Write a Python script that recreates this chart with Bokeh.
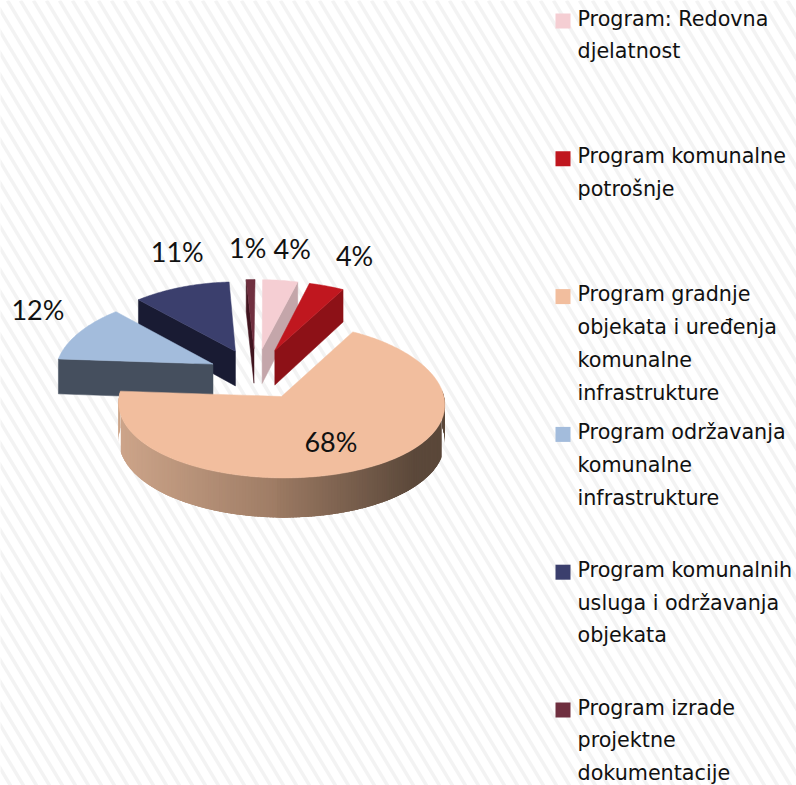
import numpy as np
from bokeh.plotting import figure
from bokeh.models import Range1d
from bokeh.core.properties import value
from bokeh.embed import file_html
from bokeh.resources import INLINE

# ---- data ----
categories = [
    "Program: Redovna djelatnost",
    "Program komunalne potrošnje",
    "Program gradnje objekata i uređenja komunalne infrastrukture",
    "Program održavanja komunalne infrastrukture",
    "Program komunalnih usluga i održavanja objekata",
    "Program izrade projektne dokumentacije",
]
legend_lines = [
    ["Program: Redovna", "djelatnost"],
    ["Program komunalne", "potrošnje"],
    ["Program gradnje", "objekata i uređenja", "komunalne", "infrastrukture"],
    ["Program održavanja", "komunalne", "infrastrukture"],
    ["Program komunalnih", "usluga i održavanja", "objekata"],
    ["Program izrade", "projektne", "dokumentacije"],
]
shares = [4, 4, 68, 12, 11, 1]
labels = ["4%", "4%", "68%", "12%", "11%", "1%"]

top_colors = ["#f5ced3", "#c0171f", "#f2be9e", "#a3bcdc", "#3b3f6d", "#6f2f3f"]
wall_colors = ["#c4a6aa", "#8d1117", None, "#454f5e", "#191b33", "#40141f"]
wall_edge = ["end", "end", None, "start", "start", "start"]
grad_left, grad_mid, grad_right = "#cda58a", "#9c7a63", "#5b483a"

# ---- layout / projection ----
W, H = 796, 785
EXPLODE = np.array([0.34, 0.34, 0.34, 0.30, 0.33, 0.34])
RX, RY = 158.0, 75.0
KX, KY, KD = 0.09, 0.05, 0.08
DEPTH = 35.5
MAIN_APEX = (281.0, 396.0)
ROTATION = 0.4 / 360
# label offset (px) from the middle of each slice's outer rim
LABEL_OFFSET = [(12, -32), (28, -30), (-37, -26), (-41, -23), (-4, -36), (-3, -32)]


def raw(U, V):
    U, V = np.asarray(U, float), np.asarray(V, float)
    return RX * U / (1 + KX * V), -RY * V / (1 + KY * V)


def frac2dir(f):
    a = 2 * np.pi * (np.asarray(f) + ROTATION)
    return np.sin(a), np.cos(a)


def hex2rgb(c):
    return np.array([int(c[i:i + 2], 16) for i in (1, 3, 5)], float)


def mix(a, b, t):
    r = hex2rgb(a) * (1 - t) + hex2rgb(b) * t
    return "#%02x%02x%02x" % tuple(int(round(x)) for x in r)


fr = np.cumsum([0] + shares) / sum(shares)
mid = (fr[:-1] + fr[1:]) / 2
ou, ov = frac2dir(mid)
off_U, off_V = EXPLODE * ou, EXPLODE * ov
mx, my = raw(off_U[2], off_V[2])
cx, cy = MAIN_APEX[0] - mx, MAIN_APEX[1] - my


def project(U, V):
    x, y = raw(U, V)
    return cx + x, cy + y


def depth(V):
    return DEPTH / (1 + KD * np.asarray(V, float))


p = figure(width=W, height=H, x_range=Range1d(0, W), y_range=Range1d(H, 0),
           output_backend="svg", toolbar_location=None, min_border=0,
           outline_line_color=None, background_fill_color="white", border_fill_color="white")
p.axis.visible = False
p.grid.visible = False

# diagonal stripe background
period, slope = 13.0, 0.6
starts = np.arange(-500, W + 20, period)
p.multi_line([[s, s + slope * 800] for s in starts], [[0, 800] for _ in starts],
             line_color="#f3f3f3", line_width=3.5)

# slices, from back to front
order = [5, 4, 3, 0, 1, 2]
rim = {}
for i in order:
    t = np.linspace(fr[i], fr[i + 1], max(8, int(shares[i] * 4)))
    u, v = frac2dir(t)
    U, V = off_U[i] + u, off_V[i] + v
    ax, ay = project(off_U[i], off_V[i])
    rx, ry = project(U, V)
    rim[i] = project(off_U[i] + ou[i], off_V[i] + ov[i])
    if wall_edge[i]:
        k = 0 if wall_edge[i] == "start" else -1
        da, dr = depth(off_V[i]), depth(V[k])
        p.patch([rx[k], ax, ax, rx[k]], [ry[k], ay, ay + da, ry[k] + dr],
                fill_color=wall_colors[i], line_color=wall_colors[i], line_width=0.5)
    else:
        # curved outer wall with a left-to-right gradient: overlapping strips painted in order
        tt = np.linspace(fr[i], fr[i + 1], 500)
        uu, vv = frac2dir(tt)
        UU, VV = off_U[i] + uu, off_V[i] + vv
        xx, yy = project(UU, VV)
        dd = depth(VV)
        left, right = xx.min(), xx.max()
        keep = np.where(vv < 0.08)[0]
        keep = keep[np.argsort(xx[keep])]
        xs, ys, cols = [], [], []
        for a in keep[::2]:
            b = min(a + 5, len(xx) - 1) if uu[a] > 0 else max(a - 5, 0)
            g = (xx[a] - left) / (right - left)
            c = mix(grad_left, grad_mid, g / 0.5) if g < 0.5 else mix(grad_mid, grad_right, min(1, (g - 0.5) / 0.42))
            b2 = b if vv[b] < 0.08 else a
            xs.append([xx[a], xx[b2], xx[b2], xx[a]])
            ys.append([yy[a], yy[b2], yy[b2] + dd[b2], yy[a] + dd[a]])
            cols.append(c)
        p.patches(xs, ys, fill_color=cols, line_color=None)
    p.patch(np.r_[ax, rx], np.r_[ay, ry], fill_color=top_colors[i], line_color=top_colors[i], line_width=0.5)

# data labels
lx = [rim[i][0] + LABEL_OFFSET[i][0] for i in range(6)]
ly = [rim[i][1] + LABEL_OFFSET[i][1] for i in range(6)]
p.text(lx, ly, text=labels, text_font=value("Lato"), text_font_size="27px",
       text_color="#111111", text_align="center", text_baseline="middle")

# legend
LEG_Y0, LEG_STEP, LINE = 18.0, 137.8, 32.8
sq_x, sq_y, tx, ty, tt = [], [], [], [], []
for i, lines in enumerate(legend_lines):
    y0 = LEG_Y0 + LEG_STEP * i
    sq_x.append(562.5)
    sq_y.append(y0 + 2.5)
    for j, s in enumerate(lines):
        tx.append(577)
        ty.append(y0 + LINE * j)
        tt.append(s)
p.rect(sq_x, sq_y, width=15, height=15, fill_color=top_colors, line_color=None)
p.text(tx, ty, text=tt, text_font=value("DejaVu Sans"), text_font_size="20.7px",
       text_color="#111111", text_align="left", text_baseline="middle")

open("out.html", "w").write(file_html(p, INLINE))
